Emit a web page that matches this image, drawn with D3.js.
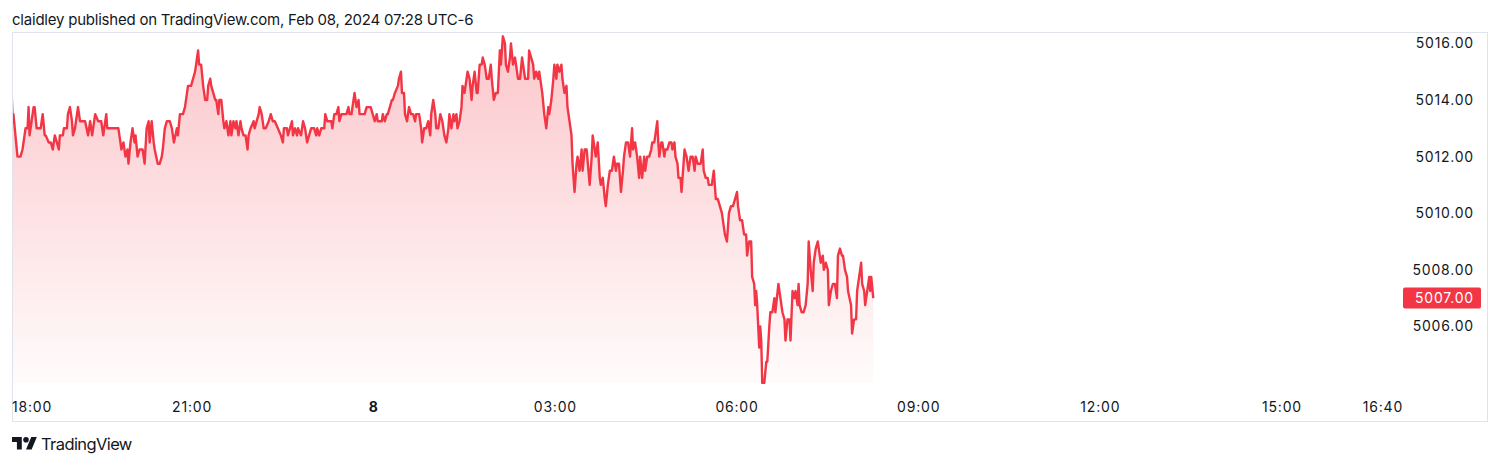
<!DOCTYPE html>
<html>
<head>
<meta charset="utf-8">
<script src="https://cdn.jsdelivr.net/npm/d3@7"></script>
<style>
  html, body { margin: 0; padding: 0; background: #ffffff; }
  svg { display: block; font-family: Inter, "Noto Sans", Roboto, sans-serif; }
</style>
</head>
<body>
<svg id="chart" width="1500" height="465"></svg>
<script>
// ---- Data (minutes since 18:00 Feb 7, price) ----
const titleText = "claidley published on TradingView.com, Feb 08, 2024 07:28 UTC-6";
const brandText = "TradingView";
const lastPrice = 5007.00;

const yTickValues = [5006, 5008, 5010, 5012, 5014, 5016];

const xTickMinutes = [0, 180, 360, 540, 720, 900, 1080, 1260, 1360];
const xTickLabels  = ["18:00", "21:00", "8", "03:00", "06:00", "09:00", "12:00", "15:00", "16:40"];
const xTickBold    = [false, false, true, false, false, false, false, false, false];

const seriesEvening = [
[1,5014.5],[2,5013.5],[3,5013.5],[5,5012.75],[7,5012],[10,5012],[12,5012.25],[14,5012.75],[15,5013],[17,5013],[18,5013.75],[19,5012.75],[21,5013.25],[23,5013.75],[24,5013.75],[26,5013],[28,5013],[30,5013],[32,5013.5],[34,5012.75],[35,5012.75],[38,5012.5],[40,5012.5],[42,5012.25],[44,5012.75],[46,5012.5],[48,5012.25],[49,5012.75],[52,5012.75],[53,5013],[56,5013],[57,5013.5],[59,5013.75],[61,5013.25],[62,5012.75],[64,5013],[67,5013.75],[69,5013.25],[71,5013.25],[74,5013.25],[77,5012.75],[79,5013.25],[81,5012.75],[82,5013],[84,5013.5],[87,5013.25],[90,5013.25],[92,5012.75],[94,5013.25],[95,5013.5],[96,5013],[107,5013],[109,5012.5],[110,5012.25],[112,5012.5],[114,5012],[116,5012.25],[117,5011.75],[119,5012.5],[121,5013],[123,5012.5],[124,5012.75],[126,5012],[128,5012.25],[131,5012.25],[133,5011.75],[135,5013],[137,5013.25],[138,5012.5],[140,5013.25],[142,5012.5],[143,5012.25],[146,5011.75],[148,5011.75],[150,5012],[151,5012.25],[153,5013],[155,5013.25],[158,5013.25],[160,5013],[162,5012.5],[165,5013],[166,5012.75],[168,5013.5],[171,5013.5],[173,5013.75],[176,5014.5],[179,5014.5],[181,5014.75],[183,5015],[184,5015.25],[186,5015.75],[187,5015.25],[189,5015.25],[191,5014.5],[193,5014],[195,5014],[196,5014.5],[198,5014.75],[199,5014.5],[201,5014.25],[203,5014],[204,5014],[206,5013.5],[207,5014],[209,5014],[211,5013.25],[212,5013]
];
const seriesNight = [
[214,5013.25],[216,5012.75],[218,5013.25],[219,5012.75],[221,5013.25],[223,5013],[224,5013.25],[226,5012.75],[228,5013.25],[229,5013],[231,5012.75],[233,5012.75],[235,5012.25],[236,5012.75],[238,5013],[241,5013.25],[242,5013],[244,5013.25],[246,5013.5],[247,5013.75],[249,5013.5],[251,5013],[253,5013],[256,5013.25],[258,5013.5],[260,5013.25],[262,5013.25],[265,5013],[268,5012.75],[270,5012.5],[271,5013],[274,5013],[275,5012.75],[277,5013],[279,5013.25],[280,5012.75],[282,5013],[284,5012.75],[285,5013],[288,5012.75],[290,5013.25],[292,5013],[294,5012.5],[296,5012.75],[298,5013],[301,5013],[303,5012.75],[304,5013],[306,5012.75],[308,5013],[311,5013],[312,5013.5],[314,5013.25],[318,5013.25],[319,5013],[321,5013.5],[323,5013.5],[325,5013.75],[326,5013.25],[328,5013.5],[331,5013.5],[333,5013.5],[335,5013.75],[336,5013.5],[338,5013.5],[340,5014],[341,5014.25],[343,5013.75],[345,5014],[346,5013.5],[349,5013.5],[351,5013.5],[353,5013.75],[357,5013.75],[359,5013.5],[361,5013.25],[363,5013.5],[364,5013.25],[368,5013.25],[369,5013.5],[371,5013.25],[373,5013.5],[374,5013.5],[376,5013.75],[378,5014],[379,5014],[381,5014.25],[384,5014.5],[385,5014.75],[387,5015],[388,5014.25],[390,5014.25],[391,5013.5],[393,5013.25],[395,5013.75],[397,5013.5],[399,5013.5],[401,5013.25],[402,5013.5],[405,5013.5],[407,5013],[408,5012.5],[410,5013],[412,5013],[414,5013.25],[416,5012.75],[417,5013.5],[419,5014],[421,5013.5],[422,5013],[424,5013],[426,5013.5],[428,5013.25]
];
const seriesEarly = [
[430,5012.75],[432,5012.5],[434,5013],[435,5013.5],[437,5013],[439,5013.5],[440,5013.25],[442,5013.5],[443,5013],[445,5013.25],[447,5013.75],[448,5014.5],[450,5014.25],[452,5014.75],[453,5015],[455,5014.75],[457,5014],[458,5014.5],[460,5015],[462,5014.25],[463,5014.25],[465,5015.25],[467,5015.25],[468,5015.5],[470,5015.25],[472,5014.75],[474,5014.75],[476,5015.25],[477,5014.75],[479,5014],[481,5014.25],[483,5014.25],[485,5015.75],[486,5015.25],[488,5016.25],[490,5016],[491,5015.25],[493,5015],[495,5015.5],[496,5016],[498,5015.25],[500,5015.5],[501,5015.25],[503,5014.75],[505,5014.75],[507,5015.5],[509,5015],[510,5014.75],[513,5014.75],[514,5015.75],[516,5015.5],[518,5015.25],[519,5014.75],[521,5015],[523,5014.75],[524,5015],[527,5014.25],[529,5013.5],[531,5013],[533,5013.75],[534,5013.5],[536,5014],[538,5014.75],[539,5015.25],[541,5014.75],[542,5015.25],[544,5015],[546,5015.25],[547,5014.75],[549,5014.25],[551,5014.5],[552,5013.75],[554,5013.25],[556,5012.75],[557,5011.75],[559,5010.75],[561,5011.75],[562,5012],[564,5011.5],[566,5012.25],[567,5011.5],[569,5012.25],[571,5012.25],[574,5011],[576,5012],[577,5012.75],[579,5012.25],[580,5012],[582,5012.5],[584,5011.25],[585,5011],[587,5011.25],[589,5010.5],[590,5010.25],[592,5011],[594,5011.5],[596,5011.5],[598,5012],[600,5011.5],[601,5011.75],[603,5011.75],[605,5010.75],[607,5011.5],[608,5012],[610,5012.5],[612,5012.5],[614,5012],[616,5013],[617,5012.25],[619,5012.5],[621,5012],[623,5011.25],[624,5012],[626,5011.25],[628,5012],[629,5011.5],[631,5012],[633,5012],[635,5012.25],[636,5012.5],[638,5012.5],[640,5013],[641,5013.25]
];
const seriesMorning = [
[642,5012.5],[643,5012],[645,5012.5],[646,5012.5],[648,5012],[649,5012.25],[651,5012.25],[653,5012.5],[655,5012.5],[656,5012.25],[658,5012.5],[659,5012],[661,5011.75],[662,5011.25],[664,5011.25],[665,5010.75],[667,5011.75],[668,5012.25],[670,5012],[672,5011.5],[674,5012],[676,5012],[678,5011.5],[679,5012],[681,5011.75],[684,5011.75],[686,5012.25],[687,5011.5],[689,5011.25],[691,5011.25],[692,5011],[695,5011],[697,5011.5],[699,5010.5],[701,5010.5],[703,5010.25],[705,5010],[707,5009.5],[708,5009.25],[710,5009],[711,5009.5],[712,5010],[714,5010.25],[716,5010.25],[718,5010.5],[720,5010.75],[721,5010.25],[723,5009.75],[725,5009.75],[727,5009.25],[729,5009.25],[730,5008.5],[732,5009],[734,5009],[735,5007.75],[737,5007.5],[738,5006.75],[739,5007.25],[740,5006.75],[742,5005.25],[743,5006],[744,5005.5],[745,5004],[747,5004],[749,5004.75],[750,5004.75],[752,5006],[753,5006.5],[755,5006.5],[757,5007],[758,5006.5],[761,5007.5],[763,5007],[765,5006.5],[767,5006.25],[768,5005.5],[770,5006.25],[772,5006.25],[773,5005.5],[775,5007.25],[777,5007],[778,5007.25],[780,5006.75],[781,5007.5],[782,5006.75],[784,5006.5],[786,5006.5],[788,5006.75],[790,5007.5],[791,5009],[793,5008],[795,5007.25],[796,5008.25],[798,5008.75],[800,5009],[801,5008.75],[803,5008.25],[805,5008.5],[806,5008],[808,5008.25],[810,5008],[811,5006.75],[813,5007.25],[815,5007.5],[817,5007.5],[819,5007],[820,5008.5],[822,5008.75],[824,5008.5],[825,5008.5],[827,5008],[829,5007.75],[830,5007.25],[833,5006.75],[834,5005.75],[836,5006.25],[838,5006.25],[839,5007.25],[841,5007.75],[843,5008.25],[844,5007.5],[846,5007.25],[847,5006.75],[849,5007.25],[851,5007.75],[852,5007.25],[853,5007.75],[855,5007]
];

// ---- Layout ----
const frame = { left: 12, top: 32, right: 1488, bottom: 422 };
const plot  = { left: 12, top: 32, right: 1405, bottom: 383 };
const lineColor = "#F23645";
const textColor = "#131722";

const svg = d3.select("#chart");
const data = [].concat(seriesEvening, seriesNight, seriesEarly, seriesMorning)
  .map(d => ({ m: d[0], v: d[1] }));

const x = d3.scaleLinear().domain([0, 1380]).range([10.4, 10.4 + 1380 * 1.0092]);
const y = d3.scaleLinear().domain([5004, 5016]).range([383, 43.4]);

// Title
svg.append("text")
  .attr("x", 12).attr("y", 25)
  .attr("font-size", 15).attr("letter-spacing", "-0.22px").attr("fill", textColor)
  .text(titleText);

// Frame
svg.append("rect")
  .attr("x", frame.left + 0.5).attr("y", frame.top + 0.5)
  .attr("width", frame.right - frame.left - 1).attr("height", frame.bottom - frame.top - 1)
  .attr("fill", "#ffffff").attr("stroke", "#e0e3eb").attr("stroke-width", 1);

// Gradient
const defs = svg.append("defs");
const grad = defs.append("linearGradient")
  .attr("id", "areaGrad").attr("gradientUnits", "userSpaceOnUse")
  .attr("x1", 0).attr("x2", 0).attr("y1", y(5016.25)).attr("y2", plot.bottom);
grad.append("stop").attr("offset", "0%").attr("stop-color", lineColor).attr("stop-opacity", 0.28);
grad.append("stop").attr("offset", "100%").attr("stop-color", lineColor).attr("stop-opacity", 0.02);

defs.append("clipPath").attr("id", "plotClip")
  .append("rect").attr("x", plot.left + 1).attr("y", plot.top + 1)
  .attr("width", plot.right - plot.left - 1).attr("height", plot.bottom - plot.top);

const g = svg.append("g").attr("clip-path", "url(#plotClip)");

const area = d3.area().x(d => x(d.m)).y0(plot.bottom).y1(d => y(d.v));
const line = d3.line().x(d => x(d.m)).y(d => y(d.v));

g.append("path").datum(data).attr("d", area).attr("fill", "url(#areaGrad)");
g.append("path").datum(data).attr("d", line)
  .attr("fill", "none").attr("stroke", lineColor).attr("stroke-width", 2.4)
  .attr("stroke-linejoin", "round");

// Y axis labels
const yAxis = svg.append("g").attr("font-size", 14).attr("letter-spacing", "0.8px").attr("fill", textColor);
yAxis.selectAll("text").data(yTickValues).join("text")
  .attr("x", 1474).attr("y", d => y(d)).attr("dy", "0.36em")
  .attr("text-anchor", "end").attr("fill", textColor)
  .text(d => d3.format(".2f")(d));

// Last price badge
const badgeY = y(lastPrice);
svg.append("rect")
  .attr("x", 1403).attr("y", badgeY - 10.5).attr("width", 78).attr("height", 21)
  .attr("rx", 2).attr("fill", lineColor);
svg.append("text")
  .attr("x", 1474).attr("y", badgeY).attr("dy", "0.36em")
  .attr("text-anchor", "end").attr("font-size", 14).attr("letter-spacing", "0.8px")
  .attr("fill", "#ffffff")
  .text(d3.format(".2f")(lastPrice));

// X axis labels
const xAxis = svg.append("g").attr("font-size", 14).attr("letter-spacing", "0.8px");
xTickMinutes.forEach((m, i) => {
  const t = xAxis.append("text")
    .attr("y", 411.5).attr("fill", textColor)
    .attr("font-weight", xTickBold[i] ? 700 : 400)
    .text(xTickLabels[i]);
  const w = t.node().getComputedTextLength();
  let cx = x(m) - w / 2;
  if (cx < plot.left) cx = plot.left;
  t.attr("x", cx);
});

// Brand
const logo = svg.append("g").attr("transform", "translate(12,434.2) scale(0.7)").attr("fill", textColor);
logo.append("path").attr("d", "M14 22H7V11H0V4h14v18zM28 22h-8l7.5-18h8L28 22z");
logo.append("circle").attr("cx", 20).attr("cy", 8).attr("r", 4);
svg.append("text")
  .attr("x", 41).attr("y", 450)
  .attr("font-size", 16.5).attr("letter-spacing", "-0.6px").attr("fill", textColor)
  .text(brandText);
</script>
</body>
</html>
